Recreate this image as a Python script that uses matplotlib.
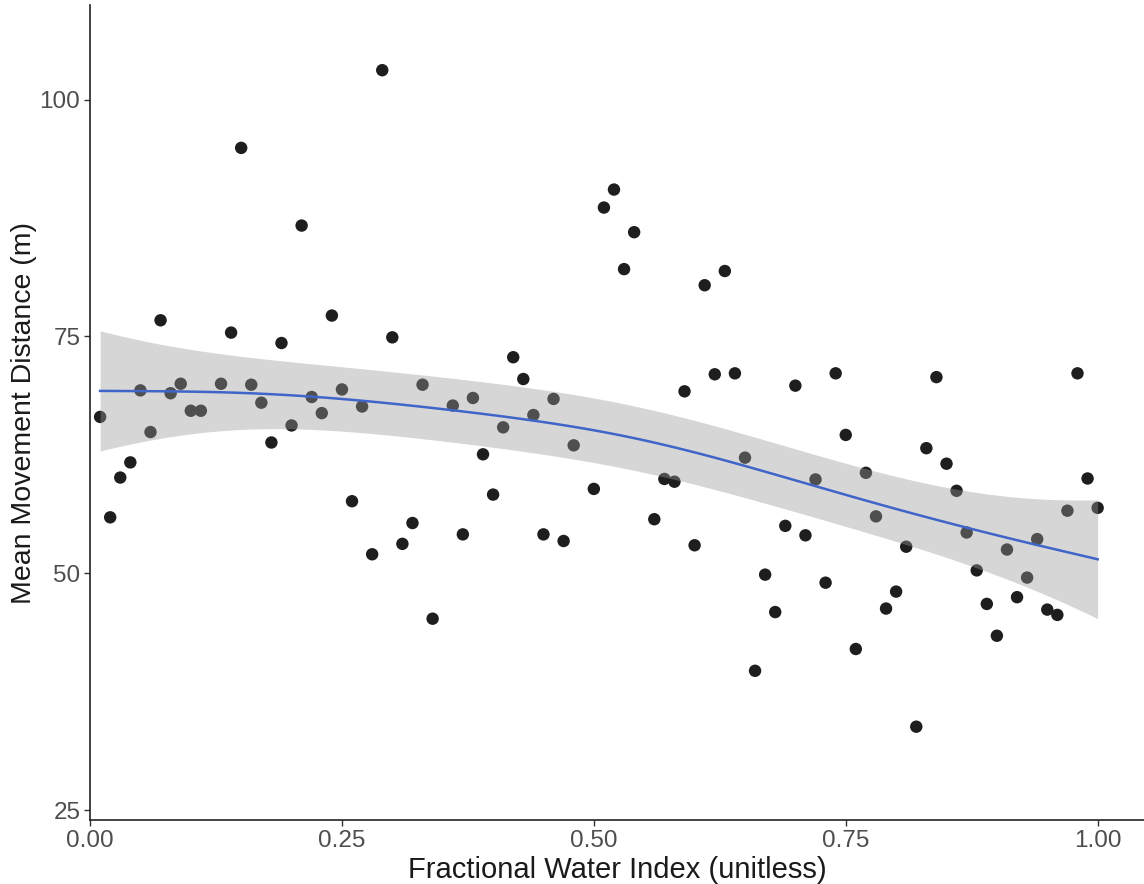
import numpy as np
import matplotlib
matplotlib.use("Agg")
import matplotlib.pyplot as plt

# ---- data ----
fwi = [0.01, 0.02, 0.03, 0.04, 0.05, 0.06, 0.07, 0.08, 0.09, 0.10,
       0.11, 0.13, 0.14, 0.15, 0.16, 0.17, 0.18, 0.19, 0.20, 0.21,
       0.22, 0.23, 0.24, 0.25, 0.26, 0.27, 0.28, 0.29, 0.30, 0.31,
       0.32, 0.33, 0.34, 0.36, 0.37, 0.38, 0.39, 0.40, 0.41, 0.42,
       0.43, 0.44, 0.45, 0.46, 0.47, 0.48, 0.50, 0.51, 0.52, 0.53,
       0.54, 0.56, 0.57, 0.58, 0.59, 0.60, 0.61, 0.62, 0.63, 0.64,
       0.65, 0.66, 0.67, 0.68, 0.69, 0.70, 0.71, 0.72, 0.73, 0.74,
       0.75, 0.76, 0.77, 0.78, 0.79, 0.80, 0.81, 0.82, 0.83, 0.84,
       0.85, 0.86, 0.87, 0.88, 0.89, 0.90, 0.91, 0.92, 0.93, 0.94,
       0.95, 0.96, 0.97, 0.98, 0.99, 1.00]
distance = [66.5, 55.9, 60.1, 61.7, 69.3, 64.9, 76.7, 69.0, 70.0, 67.15,
            67.15, 70.0, 75.4, 94.9, 69.9, 68.0, 63.8, 74.3, 65.6, 86.7,
            68.6, 66.9, 77.2, 69.4, 57.6, 67.6, 52.0, 103.1, 74.9, 53.1,
            55.3, 69.9, 45.2, 67.7, 54.1, 68.5, 62.55, 58.3, 65.4, 72.8,
            70.5, 66.7, 54.1, 68.4, 53.4, 63.5, 58.9, 88.6, 90.5, 82.1,
            86.0, 55.7, 59.95, 59.66, 69.2, 52.95, 80.4, 71.0, 81.9, 71.1,
            62.2, 39.7, 49.85, 45.9, 55.0, 69.8, 54.0, 59.9, 49.0, 71.1,
            64.6, 42.0, 60.6, 56.0, 46.27, 48.06, 52.8, 33.8, 63.2, 70.7,
            61.56, 58.7, 54.3, 50.3, 46.76, 43.4, 52.5, 47.47, 49.54, 53.6,
            46.16, 45.6, 56.6, 71.1, 60.0, 56.9]
x_ticks = [0.00, 0.25, 0.50, 0.75, 1.00]
x_ticklabels = ["0.00", "0.25", "0.50", "0.75", "1.00"]
y_ticks = [25, 50, 75, 100]
y_ticklabels = ["25", "50", "75", "100"]

x = np.asarray(fwi, float)
y = np.asarray(distance, float)
n = len(x)

# ---- smoothing spline with REML-chosen smoothness (like geom_smooth gam) ----
h = np.diff(x)
Q = np.zeros((n, n - 2))
R = np.zeros((n - 2, n - 2))
for j in range(1, n - 1):
    Q[j - 1, j - 1] = 1 / h[j - 1]
    Q[j, j - 1] = -1 / h[j - 1] - 1 / h[j]
    Q[j + 1, j - 1] = 1 / h[j]
    R[j - 1, j - 1] = (h[j - 1] + h[j]) / 3
    if j < n - 2:
        R[j - 1, j] = h[j] / 6
        R[j, j - 1] = h[j] / 6
Rinv_Qt = np.linalg.solve(R, Q.T)
K = Q @ Rinv_Qt
d, U = np.linalg.eigh(K)
d[:2] = 0
c = U.T @ y

lams = np.exp(np.linspace(np.log(1e-6), np.log(10), 600))
crit = []
for lam in lams:
    v = 1 + 1 / (lam * d[2:])
    sig2 = np.sum(c[2:] ** 2 / v) / (n - 2)
    crit.append(np.sum(np.log(v)) + (n - 2) * np.log(sig2))
lam = lams[int(np.argmin(crit))]

s = 1 / (1 + lam * d)
S = (U * s) @ U.T
f_hat = S @ y
edf = s.sum()
sig2 = np.sum((y - f_hat) ** 2) / (n - edf)


def interp_matrix(xq):
    G = np.zeros((n, n))
    G[1:-1] = Rinv_Qt
    A = np.zeros((len(xq), n))
    for r, t in enumerate(xq):
        i = int(np.clip(np.searchsorted(x, t, side="right") - 1, 0, n - 2))
        hi = x[i + 1] - x[i]
        a = t - x[i]
        b = x[i + 1] - t
        row = np.zeros(n)
        row[i + 1] += a / hi
        row[i] += b / hi
        row -= (a * b / 6) * ((1 + a / hi) * G[i + 1] + (1 + b / hi) * G[i])
        A[r] = row
    return A


xg = np.linspace(x.min(), x.max(), 120)
A = interp_matrix(xg)
fit = A @ f_hat
se = np.sqrt(sig2 * np.einsum("ij,jk,ik->i", A, S, A))
z = 1.959964
dfr = n - edf
tq = z + (z ** 3 + z) / (4 * dfr) + (5 * z ** 5 + 16 * z ** 3 + 3 * z) / (96 * dfr ** 2)
lo = fit - tq * se
hi = fit + tq * se

# ---- figure ----
plt.rcParams["font.family"] = ["Liberation Sans", "DejaVu Sans"]
fig = plt.figure(figsize=(11.44, 8.84), dpi=100)
ax = fig.add_axes([0.0787, 0.0724, 0.9213, 0.9216])

ax.scatter(x, y, s=80, color="#1e1e1e", edgecolors="none", zorder=2)
ax.fill_between(xg, lo, hi, color="#999999", alpha=0.4, linewidth=0, zorder=3)
ax.plot(xg, fit, color="#3F65C9", linewidth=1.8, zorder=4)

ax.set_xlim(0, 1.046)
ax.set_ylim(23.95, 109.95)
ax.set_xticks(x_ticks)
ax.set_xticklabels(x_ticklabels)
ax.set_yticks(y_ticks)
ax.set_yticklabels(y_ticklabels)

for sp in ["top", "right"]:
    ax.spines[sp].set_visible(False)
for sp in ["left", "bottom"]:
    ax.spines[sp].set_color("#222222")
    ax.spines[sp].set_linewidth(1.2)
ax.tick_params(axis="both", colors="#333333", length=4, width=1.0,
               labelsize=17.5, labelcolor="#4d4d4d", pad=3)

ax.set_xlabel("Fractional Water Index (unitless)", fontsize=21, color="#1a1a1a", labelpad=3)
ax.set_ylabel("Mean Movement Distance (m)", fontsize=20.5, color="#1a1a1a", labelpad=2)

fig.savefig("out.png", dpi=100)
